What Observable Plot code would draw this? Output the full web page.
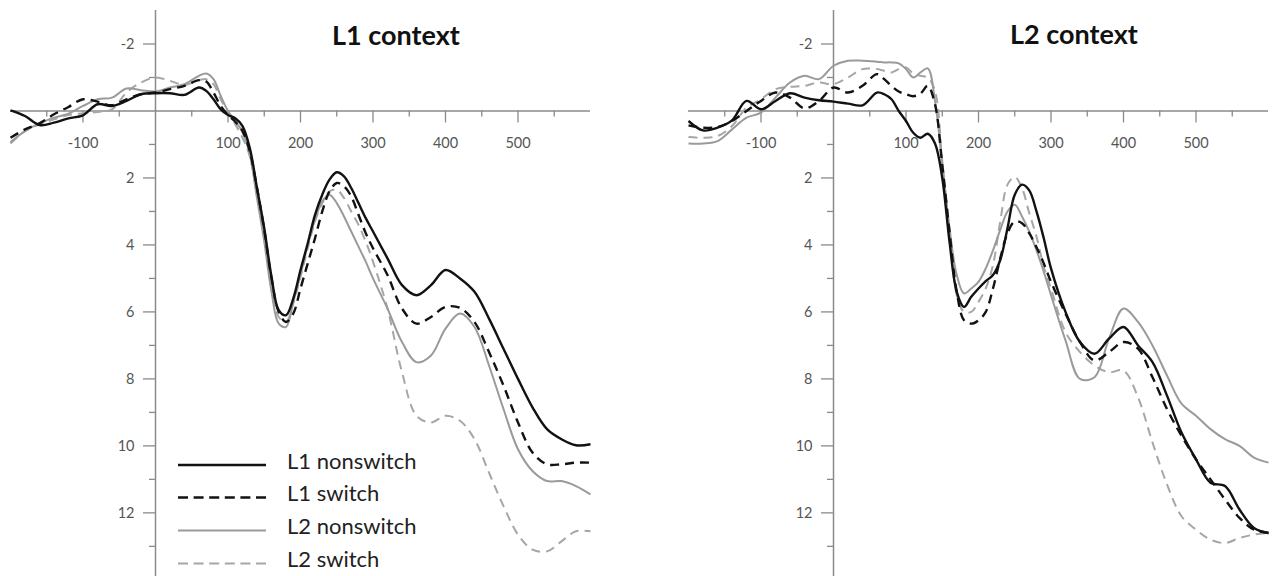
<!DOCTYPE html>
<html><head><meta charset="utf-8">
<script src="https://cdn.jsdelivr.net/npm/d3@7"></script>
<script src="https://cdn.jsdelivr.net/npm/@observablehq/plot@0.6"></script>
<style>
body{margin:0;background:#fff;}
#wrap{position:relative;width:1272px;height:576px;overflow:hidden;}
#row{display:flex;}
#overlay{position:absolute;left:0;top:0;pointer-events:none;}
</style></head><body>
<div id="wrap"><div id="row"></div><svg id="overlay" width="1272" height="576"></svg></div>
<script>
// Time points (ms)
const times = [-200,-180,-160,-140,-120,-100,-80,-60,-40,-20,
  0,20,40,60,70,80,90,100,110,120,
  130,140,150,160,170,180,190,200,210,220,
  230,240,250,260,270,280,290,300,320,340,
  360,380,400,420,440,460,480,500,520,540,
  560,580,600];

const seriesNames = ["L1 nonswitch","L1 switch","L2 nonswitch","L2 switch"];
const panelTitles = ["L1 context","L2 context"];

// L1 context panel (µV)
const l1ctx_l1ns = [-0.02,0.15,0.42,0.35,0.22,0.13,-0.2,-0.15,-0.3,-0.5,
  -0.53,-0.53,-0.48,-0.7,-0.6,-0.35,-0.05,0.12,0.22,0.45,
  1.1,2.3,3.5,4.95,5.95,6.1,5.6,4.75,3.95,3.1,
  2.5,2.05,1.83,1.95,2.3,2.75,3.2,3.6,4.4,5.2,
  5.5,5.2,4.75,5.0,5.4,6.2,7.1,8.0,8.85,9.5,
  9.8,9.98,9.95];
const l1ctx_l1sw = [0.8,0.55,0.37,0.1,-0.12,-0.35,-0.28,-0.17,-0.35,-0.5,
  -0.55,-0.65,-0.75,-0.92,-0.88,-0.55,-0.15,0.12,0.32,0.6,
  1.2,2.3,3.55,5.0,6.0,6.3,6.05,5.3,4.55,3.8,
  3.0,2.4,2.15,2.25,2.55,3.1,3.65,4.1,4.9,5.9,
  6.35,6.15,5.85,5.88,6.3,7.2,8.2,9.3,10.2,10.55,
  10.55,10.5,10.5];
const l1ctx_l2ns = [0.93,0.6,0.37,0.2,0.08,-0.15,-0.35,-0.4,-0.67,-0.62,
  -0.58,-0.7,-0.8,-1.05,-1.12,-0.95,-0.45,0.0,0.3,0.62,
  1.3,2.6,3.9,5.4,6.35,6.45,5.7,4.9,4.0,3.25,
  2.7,2.5,2.75,3.15,3.6,4.05,4.5,5.0,5.9,6.9,
  7.5,7.3,6.5,6.05,6.45,7.6,8.9,10.1,10.75,11.05,
  11.05,11.2,11.45];
const l1ctx_l2sw = [0.97,0.6,0.4,0.25,0.12,0.07,0.03,-0.05,-0.55,-0.85,
  -1.0,-0.9,-0.78,-0.92,-0.95,-0.8,-0.35,0.05,0.4,0.8,
  1.35,2.5,3.75,5.2,6.15,6.3,5.75,4.95,4.1,3.3,
  2.75,2.4,2.35,2.6,3.0,3.4,3.9,4.5,5.9,7.8,
  9.1,9.3,9.1,9.25,9.8,10.8,11.8,12.65,13.1,13.15,
  12.85,12.55,12.55];

// L2 context panel (µV)
const l2ctx_l1ns = [0.3,0.58,0.5,0.28,-0.3,-0.05,-0.3,-0.53,-0.4,-0.32,
  -0.28,-0.22,-0.17,-0.55,-0.5,-0.35,0.0,0.3,0.65,0.8,
  0.68,0.97,2.0,3.9,5.4,5.85,5.55,5.3,5.08,4.9,
  4.45,3.5,2.5,2.2,2.37,3.0,3.8,4.7,6.0,6.9,
  7.25,6.8,6.45,7.0,7.5,8.5,9.6,10.4,11.1,11.2,
  11.9,12.45,12.6];
const l2ctx_l1sw = [0.43,0.5,0.48,0.3,0.0,-0.3,-0.55,-0.4,-0.08,-0.3,
  -0.7,-0.55,-0.75,-1.1,-0.95,-0.75,-0.58,-0.5,-0.44,-0.52,
  -0.75,-0.2,1.6,3.6,5.4,6.25,6.35,6.25,6.0,5.3,
  4.4,3.65,3.3,3.35,3.65,4.07,4.55,5.1,6.05,6.9,
  7.45,7.2,6.9,7.1,7.95,8.9,9.7,10.4,11.0,11.6,
  12.15,12.5,12.6];
const l2ctx_l2ns = [0.97,0.97,0.9,0.55,0.2,0.05,-0.4,-0.85,-1.05,-0.95,
  -1.35,-1.5,-1.5,-1.47,-1.45,-1.45,-1.42,-1.25,-1.0,-1.15,
  -1.27,-0.3,1.6,3.5,4.9,5.45,5.3,5.1,4.7,4.16,
  3.55,3.0,2.8,3.15,3.6,4.16,4.8,5.5,6.85,8.0,
  7.95,6.8,5.9,6.3,7.0,7.9,8.74,9.1,9.5,9.8,
  10.0,10.35,10.5];
const l2ctx_l2sw = [0.78,0.8,0.75,0.45,-0.1,-0.35,-0.65,-0.72,-0.75,-0.85,
  -0.8,-1.0,-1.25,-1.25,-1.2,-1.15,-1.25,-1.3,-1.12,-1.05,
  -1.0,-0.6,1.5,3.6,5.5,6.0,6.0,5.7,5.3,4.6,
  3.3,2.2,1.97,2.3,3.05,3.75,4.65,5.3,6.6,7.2,
  7.6,7.8,7.75,8.55,9.9,11.15,12.1,12.5,12.8,12.9,
  12.75,12.65,12.6];

// Axis ticks
const xMajorTicks = [-100,100,200,300,400,500];
const xTickLabels = ["-100","100","200","300","400","500"];
const xMinorTicks = [-150,-50,50,150,250,350,450,550];
const yMajorTicks = [-2,2,4,6,8,10,12];
const yTickLabels = ["-2","2","4","6","8","10","12"];
const yMinorTicks = [-1,1,3,5,7,9,11,13];

const seriesStyle = {
  "L1 nonswitch": {stroke:"#121212", width:2.4, dash:null},
  "L1 switch":    {stroke:"#121212", width:2.4, dash:"9,6"},
  "L2 nonswitch": {stroke:"#9a9a9a", width:2.0, dash:null},
  "L2 switch":    {stroke:"#a6a6a6", width:2.0, dash:"9,6"}
};
const axisColor = "#8a8a8a";
const labelColor = "#555555";

function panel(values, marginLeft, marginRight) {
  const data = [];
  seriesNames.forEach((s, i) => times.forEach((t, j) => data.push({series: s, t, v: values[i][j]})));
  const drawOrder = ["L2 switch","L2 nonswitch","L1 switch","L1 nonswitch"];
  return Plot.plot({
    width: 636, height: 576,
    marginTop: 10, marginBottom: 0, marginLeft, marginRight,
    x: {domain: [-200, 600], axis: null},
    y: {domain: [13.9, -3], axis: null},
    style: {fontFamily: "Lato, sans-serif", background: "transparent", overflow: "visible"},
    marks: [
      Plot.ruleY([0], {stroke: axisColor, strokeWidth: 1.5}),
      Plot.ruleX([0], {stroke: axisColor, strokeWidth: 1.5}),
      Plot.ruleX(xMajorTicks, {x: d => d, y1: 0, y2: 0, insetBottom: -12, stroke: axisColor, strokeWidth: 1.3}),
      Plot.ruleX(xMinorTicks, {x: d => d, y1: 0, y2: 0, insetBottom: -6, stroke: axisColor, strokeWidth: 1.3}),
      Plot.ruleY(yMajorTicks, {y: d => d, x1: 0, x2: 0, insetLeft: -12, stroke: axisColor, strokeWidth: 1.3}),
      Plot.ruleY(yMinorTicks, {y: d => d, x1: 0, x2: 0, insetLeft: -6, stroke: axisColor, strokeWidth: 1.3}),
      Plot.text(xMajorTicks, {x: d => d, y: 0, dy: 32, text: (d, i) => xTickLabels[i], fill: labelColor, fontSize: 14.5}),
      Plot.text(yMajorTicks, {x: 0, y: d => d, dx: -21, textAnchor: "end", text: (d, i) => yTickLabels[i], fill: labelColor, fontSize: 14.5}),
      ...drawOrder.map(s => Plot.line(data.filter(d => d.series === s), {
        x: "t", y: "v", curve: "catmull-rom",
        stroke: seriesStyle[s].stroke, strokeWidth: seriesStyle[s].width,
        strokeDasharray: seriesStyle[s].dash || undefined,
        strokeLinejoin: "round", strokeLinecap: "butt"
      }))
    ]
  });
}

const row = document.getElementById("row");
row.appendChild(panel([l1ctx_l1ns, l1ctx_l1sw, l1ctx_l2ns, l1ctx_l2sw], 10, 46));
row.appendChild(panel([l2ctx_l1ns, l2ctx_l1sw, l2ctx_l2ns, l2ctx_l2sw], 52, 4));

// Titles and legend
const ov = d3.select("#overlay");
const titlePos = [[332, 45], [1010, 44]];
panelTitles.forEach((t, i) => {
  ov.append("text").attr("x", titlePos[i][0]).attr("y", titlePos[i][1])
    .attr("font-family", "Lato, sans-serif").attr("font-weight", 700)
    .attr("font-size", 27).attr("fill", "#111").text(t);
});
const legendY = [465, 497.5, 530.5, 563.5];
seriesNames.forEach((s, i) => {
  const st = seriesStyle[s];
  ov.append("line").attr("x1", 178).attr("x2", 266).attr("y1", legendY[i]).attr("y2", legendY[i])
    .attr("stroke", st.stroke).attr("stroke-width", st.width + 0.2)
    .attr("stroke-dasharray", st.dash ? "10,5.6" : null);
  ov.append("text").attr("x", 287).attr("y", legendY[i] + 3.5)
    .attr("font-family", "Lato, sans-serif").attr("font-size", 22).attr("fill", "#222").text(s);
});
</script>
</body></html>
